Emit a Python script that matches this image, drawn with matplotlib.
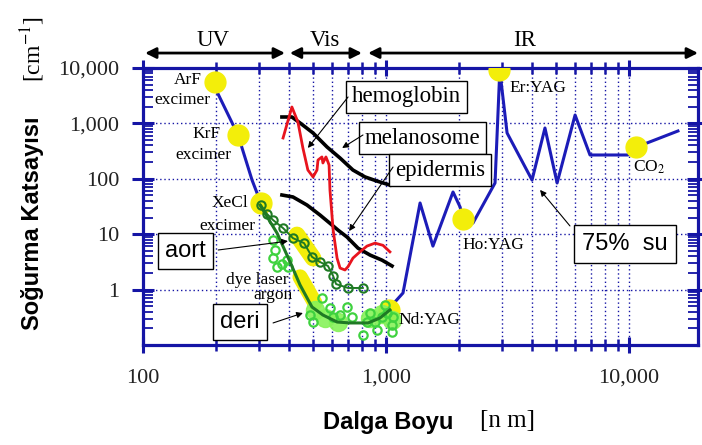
import matplotlib
matplotlib.use("Agg")
import matplotlib.pyplot as plt
from matplotlib.ticker import LogLocator, FuncFormatter, NullFormatter, FixedLocator

plt.rcParams['mathtext.fontset'] = 'stix'

# ---- absorption data (wavelength in nm, absorption coefficient in 1/cm) ----
water_uv_nm = [200, 246, 281, 306]
water_uv_abs = [4000, 618, 95, 36]
water_ir_nm = [1040, 1089, 1175, 1381, 1560, 1887, 2018, 2075, 2280, 2810,
               2940, 3150, 3990, 4510, 5060, 6000, 6910, 9900, 10690, 11860, 15900]
water_ir_abs = [0.40, 0.60, 0.87, 36.6, 6.1, 57.8, 31, 18.8, 15.9, 84,
                9000, 671, 95, 826, 84, 1418, 269, 269, 375, 443, 729]

hb_nm = [377, 410, 434, 455, 477, 501, 520, 525, 545, 550, 566, 577, 583,
         588, 606, 629, 647, 678, 698, 731, 781, 835, 901, 972, 1038]
hb_abs = [545, 1977, 1060, 360, 144, 108, 144, 218, 248, 193, 248, 201, 177,
          62.8, 11.9, 3.7, 2.45, 2.26, 2.6, 3.7, 4.8, 6.1, 6.9, 6.3, 4.8]

mel_nm = [373, 410, 443, 501, 572, 647, 731, 820, 918, 1038]
mel_abs = [1305, 1305, 1017, 671, 375, 237, 144, 108, 91, 77]

epi_nm = [373, 414, 473, 535, 599, 634, 691, 767, 860, 963, 1059]
epi_abs = [51, 47, 33.6, 22.2, 14.7, 11.9, 8.9, 5.6, 4.2, 3.4, 2.67]

aort_nm = [306, 324, 343, 377, 414, 460, 496, 535, 577, 606, 623, 698, 803]
aort_abs = [33.6, 23.2, 18, 12.9, 8.5, 6.9, 3.9, 3.15, 2.67, 1.76, 1.26, 1.07, 1.07]

deri_nm = [303, 356, 403, 443, 496, 550, 629, 711, 844, 944, 1038]
deri_abs = [33.6, 10.5, 3.15, 1.21, 0.485, 0.348, 0.26, 0.25, 0.25, 0.307, 0.43]

deri_pts_nm = [343, 349, 343, 356, 391, 395, 373, 486, 501, 545, 588, 606, 647,
               691, 725, 804, 835, 860, 901, 918, 963, 991, 1009, 1059, 1059, 1069]
deri_pts_abs = [7.85, 5.19, 3.72, 2.56, 3.42, 2.56, 2.90, 0.348, 0.26, 0.705,
                0.466, 0.32, 0.348, 0.485, 0.32, 0.152, 0.26, 0.378, 0.26,
                0.187, 0.32, 0.527, 0.378, 0.23, 0.172, 0.32]
deri_patch_nm = [510, 561, 634, 860, 963, 1059]
deri_patch_abs = [0.43, 0.31, 0.26, 0.31, 0.36, 0.28]

laser_names = ["ArF", "KrF", "XeCl", "Nd:YAG", "Ho:YAG", "Er:YAG", "CO2"]
laser_nm = [198, 246, 305, 1030, 2075, 2920, 10690]
laser_abs = [5590, 618, 36, 0.43, 18.8, 9200, 375]

dye_nm = [430, 501]
dye_abs = [9.7, 3.7]
argon_nm = [443, 510]
argon_abs = [1.69, 0.57]

x_ticks = [100, 1000, 10000]
y_ticks = [1, 10, 100, 1000, 10000]

# ---- styling ----
AX_BLUE = '#1515a5'
WATER = '#1c1cb8'
RED = '#e8141e'
YELLOW = '#f3ee0a'
DK_GREEN = '#1f7a24'
LT_GREEN = '#3fd23f'
PATCH_GREEN = '#86f25a'
SERIF = 'Liberation Serif'
SANS = 'Liberation Sans'

fig = plt.figure(figsize=(7.02, 4.45), dpi=100)
ax = fig.add_axes([143 / 702, 1 - 345 / 445, 555 / 702, 277 / 445])
ax.set_xscale('log')
ax.set_yscale('log')
ax.set_xlim(100, 19230)
ax.set_ylim(0.1, 10000)

# grid
ax.xaxis.set_major_locator(FixedLocator(x_ticks))
ax.yaxis.set_major_locator(FixedLocator(y_ticks))
ax.xaxis.set_minor_locator(LogLocator(base=10, subs=range(2, 10), numticks=20))
ax.yaxis.set_minor_locator(LogLocator(base=10, subs=range(2, 10), numticks=20))
ax.xaxis.set_minor_formatter(NullFormatter())
ax.yaxis.set_minor_formatter(NullFormatter())
fmt = FuncFormatter(lambda v, p: f"{v:,.0f}" if v >= 1 else "")
ax.xaxis.set_major_formatter(fmt)
ax.yaxis.set_major_formatter(fmt)
ax.grid(True, which='both', axis='x', color=AX_BLUE, ls=(0, (1, 2)), lw=1.0)
ax.grid(True, which='major', axis='y', color=AX_BLUE, ls=(0, (1, 2)), lw=1.0)
ax.set_axisbelow(True)

for s in ax.spines.values():
    s.set_color(AX_BLUE)
    s.set_linewidth(2.3)

ax.tick_params(axis='x', which='major', direction='inout', length=12, width=2.2,
               color=AX_BLUE, top=True, bottom=True, pad=11)
ax.tick_params(axis='x', which='minor', direction='inout', length=8, width=1.8,
               color=AX_BLUE, top=True, bottom=True)
ax.tick_params(axis='y', which='major', direction='inout', length=16, width=2.2,
               color=AX_BLUE, left=True, right=True, pad=9)
ax.tick_params(axis='y', which='minor', direction='in', length=7, width=1.3,
               color=AX_BLUE, left=True, right=True)
for lab in ax.get_xticklabels() + ax.get_yticklabels():
    lab.set_fontfamily(SERIF)
    lab.set_fontsize(16)
    lab.set_color('#222222')

# ---- curves ----
ax.plot(water_uv_nm, water_uv_abs, color=WATER, lw=2.2, zorder=2)
ax.plot(water_ir_nm, water_ir_abs, color=WATER, lw=2.2, zorder=2)

ax.plot(dye_nm, dye_abs, color=YELLOW, lw=12, solid_capstyle='round', zorder=3)
ax.plot(argon_nm, argon_abs, color=YELLOW, lw=11, solid_capstyle='round', zorder=3)
ax.plot(laser_nm, laser_abs, ls='none', marker='o', ms=15, mfc=YELLOW, mec=YELLOW, zorder=3)

ax.plot(mel_nm, mel_abs, color='black', lw=2.6, zorder=4)
ax.plot(epi_nm, epi_abs, color='black', lw=2.6, zorder=4)
ax.plot(hb_nm, hb_abs, color=RED, lw=2.0, zorder=4)

ax.plot(deri_patch_nm, deri_patch_abs, ls='none', marker='o', ms=13,
        mfc=PATCH_GREEN, mec=PATCH_GREEN, alpha=0.9, zorder=4)
ax.plot(deri_pts_nm, deri_pts_abs, ls='none', marker='o', ms=6, mfc='none',
        mec=LT_GREEN, mew=1.6, zorder=5)
ax.plot(deri_nm, deri_abs, color=DK_GREEN, lw=2.2, zorder=6)
ax.plot(aort_nm, aort_abs, color=DK_GREEN, lw=1.4, marker='o', ms=6, mfc='none',
        mec=DK_GREEN, mew=1.5, zorder=6)

# ---- laser labels ----
lab_kw = dict(family=SERIF, fontsize=12.5, ha='center', va='center', zorder=7)
ax.text(153, 6070, "ArF", **lab_kw)
ax.text(145, 2645, "excimer", **lab_kw)
ax.text(183, 644, "KrF", **lab_kw)
ax.text(177, 269, "excimer", **lab_kw)
ax.text(228, 36.6, "XeCl", **lab_kw)
ax.text(222, 14.1, "excimer", **lab_kw)
ax.text(294, 1.49, "dye laser", **lab_kw)
ax.text(343, 0.80, "argon", **lab_kw)
lab_kw['ha'] = 'left'
ax.text(1120, 0.283, "Nd:YAG", **lab_kw)
ax.text(2055, 6.4, "Ho:YAG", **lab_kw)
ax.text(3236, 4355, "Er:YAG", **lab_kw)
ax.text(10380, 163, r"CO$_2$", **lab_kw)

# ---- boxed tissue labels with pointers ----
box = dict(boxstyle='square,pad=0.25', fc='white', ec='black', lw=1.0)
arrow = dict(arrowstyle='-|>', color='black', lw=0.8, mutation_scale=9,
             shrinkA=0, shrinkB=0)

ax.text(725, 2997, "hemoglobin", family=SERIF, fontsize=16.5, ha='left', va='center',
        bbox=box, zorder=8)
ax.annotate('', xy=(477, 360), xytext=(698, 2997), arrowprops=arrow, zorder=8)

ax.text(820, 545, "melanosome", family=SERIF, fontsize=16.5, ha='left', va='center',
        bbox=box, zorder=8)
ax.annotate('', xy=(660, 360), xytext=(804, 618), arrowprops=arrow, zorder=8)

ax.text(1089, 144, "epidermis", family=SERIF, fontsize=16.5, ha='left', va='center',
        bbox=box, zorder=8)
ax.annotate('', xy=(705, 11.4), xytext=(1069, 163), arrowprops=arrow, zorder=8)

sbox = dict(boxstyle='square,pad=0.3', fc='white', ec='black', lw=1.0)
ax.text(149, 4.98, "aort", family=SANS, fontsize=17, ha='center', va='center',
        bbox=sbox, zorder=8)
ax.annotate('', xy=(395, 7.5), xytext=(204, 5.19), arrowprops=arrow, zorder=8)

ax.text(251, 0.26, "deri", family=SANS, fontsize=17, ha='center', va='center',
        bbox=sbox, zorder=8)
ax.annotate('', xy=(455, 0.378), xytext=(343, 0.25), arrowprops=arrow, zorder=8)

ax.text(9640, 6.65, "75%  su", family=SANS, fontsize=17, ha='center', va='center',
        bbox=dict(boxstyle='square,pad=0.35', fc='white', ec='black', lw=1.0), zorder=8)
ax.annotate('', xy=(4305, 63), xytext=(5715, 14.1), arrowprops=arrow, zorder=8)

# ---- spectral band arrows above the plot ----
band_tf = ax.get_xaxis_transform()
band_arrow = dict(arrowstyle='<|-|>', color='black', lw=2.0, mutation_scale=16,
                  shrinkA=0, shrinkB=0)
bands = [("UV", 102, 384, 194), ("Vis", 402, 796, 561), ("IR", 844, 19230, 3733)]
for name, lo, hi, mid in bands:
    ax.annotate('', xy=(hi, 1.054), xytext=(lo, 1.054), xycoords=band_tf,
                textcoords=band_tf, arrowprops=band_arrow, annotation_clip=False)
    ax.text(mid, 1.101, name, transform=band_tf, family=SERIF, fontsize=16.5,
            ha='center', va='center', clip_on=False)

# ---- axis titles ----
fig.text(388 / 702, 1 - 423 / 445, "Dalga Boyu", family=SANS, fontweight='bold',
         fontsize=17, ha='center', va='center')
fig.text(507 / 702, 1 - 421 / 445, "[n m]", family=SERIF, fontsize=18,
         ha='center', va='center')
fig.text(33 / 702, 1 - 223 / 445, "Soğurma Katsayısı", family=SANS, fontweight='bold',
         fontsize=17, ha='center', va='center', rotation=90)
fig.text(33 / 702, 1 - 49 / 445, r"[cm$^{-1}$]", family=SERIF, fontsize=17,
         ha='center', va='center', rotation=90)

fig.savefig("out.png", dpi=100)
